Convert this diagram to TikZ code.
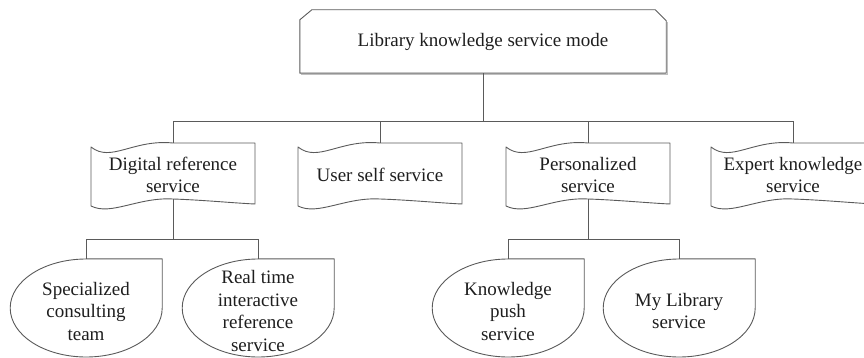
\documentclass[tikz,border=0pt]{standalone}
\usepackage{fontspec}
\setmainfont{Liberation Serif}
\usetikzlibrary{calc}
\definecolor{linegray}{HTML}{5A5A5A}
\definecolor{txt}{HTML}{1E1E1E}
\tikzset{
  lbl/.style={font=\fontsize{19}{22.5}\selectfont, text=txt, align=center, inner sep=0pt},
  shapeline/.style={draw=linegray, line width=0.9pt, line join=round},
  conn/.style={draw=linegray, line width=0.9pt},
  tapebox/.style={lbl, minimum width=164, minimum height=64},
  leafbox/.style={lbl, minimum width=152, minimum height=104},
}
\newcommand\tapeshape[1]{%
  \draw[shapeline, shift={(#1.center)}]
    (-82,-28) .. controls (-62,-12) and (-40,-36) .. (0,-32) -- (82,-32)
    -- (82,29) .. controls (60,28) and (30,25) .. (0,24)
    .. controls (-35,22) and (-62,41) .. (-82,31) -- cycle;}
\newcommand\leafshape[1]{%
  \draw[shapeline] (#1.north) -- (#1.north east) -- ([yshift=3pt]#1.east)
    arc[start angle=0, end angle=270, x radius=76, y radius=49] -- cycle;}
\begin{document}
\begin{tikzpicture}[x=1pt, y=-1pt]
\useasboundingbox (0,0) rectangle (864,358);
\clip (0,0) rectangle (864,358);
% top box
\node[lbl, minimum width=366, minimum height=63] (top) at (483,41.5) {\raisebox{-3pt}{Library knowledge service mode}};
\draw[draw=black!25, line width=1.2pt] ($(top.north east)+(1.5,12)$) -- ($(top.south east)+(1.5,1.5)$) -- ($(top.south west)+(1.5,1.5)$);
\draw[shapeline] ($(top.north west)+(0,10)$) -- ($(top.north west)+(12,0)$)
  -- ($(top.north east)+(-11,0)$) -- ($(top.north east)+(0,11)$)
  -- (top.south east) -- (top.south west) -- cycle;
% second level
\node[tapebox] (dig) at (173,175) {Digital reference\\service};
\node[tapebox] (usr) at (380,175) {User self service};
\node[tapebox] (per) at (588,175) {Personalized\\service};
\node[tapebox] (exp) at (793,175) {Expert knowledge\\service};
\tapeshape{dig}\tapeshape{usr}\tapeshape{per}\tapeshape{exp}
\coordinate (digb) at ($(dig.center)+(0,24)$);
\coordinate (perb) at ($(per.center)+(0,24)$);
% third level
\node[leafbox] (spc) at (86,311) {Specialized\\consulting\\team};
\node[leafbox] (rtm) at (258,311) {Real time\\interactive\\reference\\service};
\node[leafbox] (kps) at (508,311) {Knowledge\\push\\service};
\node[leafbox] (myl) at (679,311) {My Library\\service};
\leafshape{spc}\leafshape{rtm}\leafshape{kps}\leafshape{myl}
% connectors
\coordinate (bus1) at ($(top.south)+(0,48)$);
\draw[conn] (top.south) -- (bus1);
\draw[conn] (bus1) -| (dig.north);
\draw[conn] (bus1) -| (exp.north);
\draw[conn] (usr.north |- bus1) -- (usr.north);
\draw[conn] (per.north |- bus1) -- (per.north);
\coordinate (bus2) at ($(digb)+(0,40)$);
\draw[conn] (digb) -- (bus2);
\draw[conn] (bus2) -| (spc.north);
\draw[conn] (bus2) -| (rtm.north);
\coordinate (bus3) at ($(perb)+(0,40)$);
\draw[conn] (perb) -- (bus3);
\draw[conn] (bus3) -| (kps.north);
\draw[conn] (bus3) -| (myl.north);
\end{tikzpicture}
\end{document}
